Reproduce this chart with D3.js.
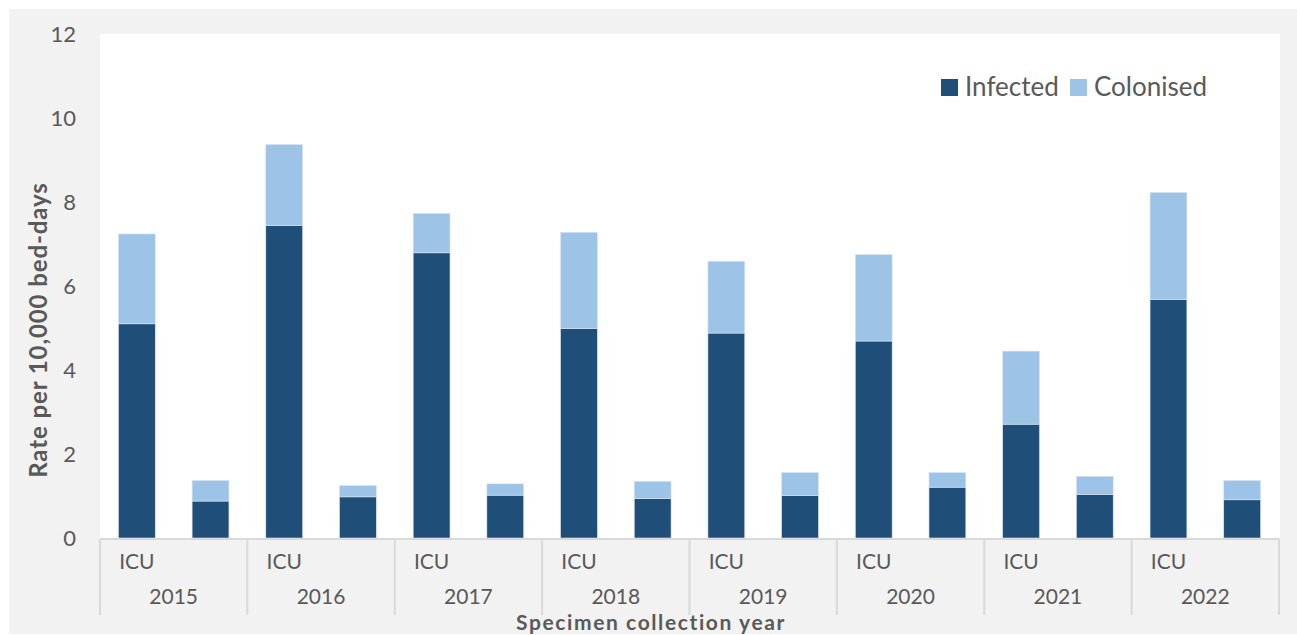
<!DOCTYPE html>
<html lang="en">
<head>
  <meta charset="UTF-8">
  <script src="https://cdn.jsdelivr.net/npm/d3@7"></script>
  <title>Rate per 10,000 bed-days</title>
  <style>
    body { margin: 0; background: #fff; }
    text { font-family: Lato, "Open Sans", sans-serif; fill: #595959; }
  </style>
</head>
<body>
  <script>
    // data
    const years = ["2015", "2016", "2017", "2018", "2019", "2020", "2021", "2022"];
    const wards = ["ICU", ""];
    const seriesNames = ["Infected", "Colonised"];
    const infectedICU = [5.10, 7.44, 6.79, 4.99, 4.88, 4.69, 2.71, 5.68];
    const colonisedICU = [2.14, 1.93, 0.94, 2.29, 1.71, 2.06, 1.74, 2.55];
    const infectedOther = [0.88, 0.98, 1.02, 0.94, 1.01, 1.21, 1.04, 0.91];
    const colonisedOther = [0.49, 0.27, 0.27, 0.41, 0.55, 0.35, 0.43, 0.46];
    const yTicks = [0, 2, 4, 6, 8, 10, 12];

    const colors = { Infected: "#1f4e79", Colonised: "#9dc3e6" };

    const width = 1297, height = 635;
    const plot = { left: 100, right: 1280, top: 34, bottom: 538 };

    // flat rows, one per bar
    const rows = [];
    years.forEach((y, i) => {
      rows.push({ year: y, ward: wards[0], Infected: infectedICU[i], Colonised: colonisedICU[i] });
      rows.push({ year: y, ward: wards[1], Infected: infectedOther[i], Colonised: colonisedOther[i] });
    });

    const svg = d3.select("body").append("svg")
      .attr("width", width)
      .attr("height", height);

    // background
    svg.append("rect").attr("x", 9).attr("y", 9)
      .attr("width", width - 9).attr("height", 625).attr("fill", "#f2f2f2");
    svg.append("rect").attr("x", plot.left).attr("y", plot.top)
      .attr("width", plot.right - plot.left).attr("height", plot.bottom - plot.top)
      .attr("fill", "#fff");

    const x0 = d3.scaleBand().domain(years).range([plot.left, 1279]);
    const x1 = d3.scaleBand().domain(wards.map((w, i) => i)).range([0, x0.bandwidth()])
      .paddingInner(0.5).paddingOuter(0.25);
    const y = d3.scaleLinear().domain([0, 12]).range([plot.bottom, plot.top]);

    const stack = d3.stack().keys(seriesNames);
    const stacked = stack(rows);

    const g = svg.append("g").attr("class", "bars");
    g.selectAll("g.series")
      .data(stacked).join("g")
      .attr("class", "series")
      .attr("fill", d => colors[d.key])
      .selectAll("rect")
      .data(d => d).join("rect")
      .attr("x", d => x0(d.data.year) + x1(wards.indexOf(d.data.ward)))
      .attr("y", d => y(d[1]))
      .attr("width", x1.bandwidth())
      .attr("height", d => y(d[0]) - y(d[1]))
      .attr("stroke", "#dbe7f3")
      .attr("stroke-width", 0.6);

    // y axis: labels only
    const yAxis = d3.axisLeft(y).tickValues(yTicks).tickSize(0).tickPadding(0);
    const ya = svg.append("g").attr("transform", `translate(${76},0)`).call(yAxis);
    ya.select(".domain").remove();
    ya.selectAll("text").style("font-size", "22px").style("font-family", null).attr("fill", "#595959");

    // x axis: baseline and group separators
    const axisCol = "#d9d9d9";
    svg.append("line")
      .attr("x1", plot.left).attr("x2", 1279)
      .attr("y1", 539).attr("y2", 539)
      .attr("stroke", axisCol).attr("stroke-width", 2);
    const bounds = years.map(yr => x0(yr)).concat([x0(years[years.length - 1]) + x0.bandwidth()]);
    svg.selectAll("line.sep")
      .data(bounds).join("line")
      .attr("class", "sep")
      .attr("x1", d => d).attr("x2", d => d)
      .attr("y1", 539).attr("y2", 615)
      .attr("stroke", axisCol).attr("stroke-width", 2);

    // inner category labels
    svg.selectAll("text.ward")
      .data(rows).join("text")
      .attr("class", "ward")
      .attr("x", d => x0(d.year) + x1(wards.indexOf(d.ward)) + x1.bandwidth() / 2)
      .attr("y", 569)
      .attr("text-anchor", "middle")
      .style("font-size", "21px")
      .text(d => d.ward);

    // year labels
    svg.selectAll("text.year")
      .data(years).join("text")
      .attr("class", "year")
      .attr("x", d => x0(d) + x0.bandwidth() / 2)
      .attr("y", 604)
      .attr("text-anchor", "middle")
      .style("font-size", "21px")
      .text(d => d);

    // axis titles
    svg.append("text")
      .attr("x", 651).attr("y", 630)
      .attr("text-anchor", "middle")
      .style("font-size", "21px").style("font-weight", "bold")
      .style("letter-spacing", "1.6px")
      .text("Specimen collection year");
    svg.append("text")
      .attr("transform", `translate(${47},${330}) rotate(-90)`)
      .attr("text-anchor", "middle")
      .style("font-size", "24px").style("font-weight", "bold")
      .style("letter-spacing", "0.9px")
      .text("Rate per 10,000 bed-days");

    // legend
    const legendX = [941, 1070];
    const lg = svg.selectAll("g.legend")
      .data(seriesNames).join("g")
      .attr("class", "legend")
      .attr("transform", (d, i) => `translate(${legendX[i]},${79})`);
    lg.append("rect").attr("width", 17).attr("height", 17).attr("fill", d => colors[d]);
    lg.append("text").attr("x", 24).attr("y", 17)
      .style("font-size", "26px")
      .text(d => d);
  </script>
</body>
</html>
